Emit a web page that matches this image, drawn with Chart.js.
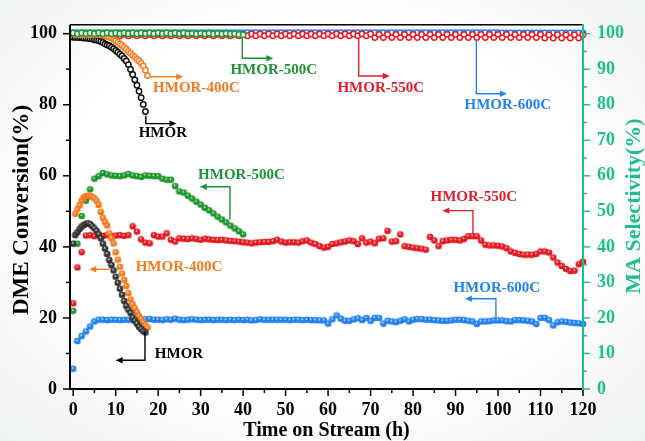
<!DOCTYPE html>
<html><head><meta charset="utf-8">
<script src="https://cdn.jsdelivr.net/npm/chart.js@4.4.1/dist/chart.umd.min.js"></script>
<style>
html,body{margin:0;padding:0;width:645px;height:441px;overflow:hidden;
background:radial-gradient(ellipse at 50% 48%, #ffffff 58%, #eef2f0 100%);}
canvas{display:block}
</style></head>
<body><canvas id="c" width="645" height="441"></canvas>
<script>
// ---------- data ----------
const tHalfA = [0,0.5,1,1.5,2,2.5,3,3.5,4,4.5,5,5.5,6,6.5,7,7.5,8,8.5,9,9.5,10,10.5,11,11.5,12,12.5,13,13.5,14,14.5,15,15.5,16,16.5,17];
const tHalfB = [0.5,1,1.5,2,2.5,3,3.5,4,4.5,5,5.5,6,6.5,7,7.5,8,8.5,9,9.5,10,10.5,11,11.5,12,12.5,13,13.5,14,14.5,15,15.5,16,16.5,17,17.5];
const t40 = [0,1,2,3,4,5,6,7,8,9,10,11,12,13,14,15,16,17,18,19,20,21,22,23,24,25,26,27,28,29,30,31,32,33,34,35,36,37,38,39,40];
const t120 = [0,1,2,3,4,5,6,7,8,9,10,11,12,13,14,15,16,17,18,19,20,21,22,23,24,25,26,27,28,29,30,31,32,33,34,35,36,37,38,39,40,
41,42,43,44,45,46,47,48,49,50,51,52,53,54,55,56,57,58,59,60,61,62,63,64,65,66,67,68,69,70,71,72,73,74,75,76,77,78,79,80,
81,82,83,84,85,86,87,88,89,90,91,92,93,94,95,96,97,98,99,100,101,102,103,104,105,106,107,108,109,110,111,112,113,114,115,116,117,118,119,120];

// DME conversion (%)
const hmorConv = [40.9,43.3,44.1,45.0,45.7,46.2,46.5,46.6,46.4,45.8,45.2,44.5,43.5,42.4,40.9,39.5,38.0,36.3,34.9,33.4,31.6,29.9,28.2,26.5,24.8,23.4,22.3,21.4,20.1,19.2,18.4,17.5,16.9,16.3,15.9];
const h400Conv = [49.3,50.6,51.7,53.0,53.9,54.3,54.4,54.3,54.0,53.7,53.0,51.8,49.8,48.2,47.0,46.0,43.8,42.4,41.0,38.5,36.4,34.4,32.5,30.7,29.0,27.0,25.2,23.8,22.7,21.6,20.5,19.7,18.8,17.9,17.3];
const h500Conv = [22.0,40.9,48.7,53.0,56.2,59.2,59.9,60.8,60.4,60.1,60.0,59.9,60.1,60.5,60.1,59.9,59.7,60.1,60.0,59.9,59.9,59.2,58.9,58.9,57.1,55.6,55.3,54.4,53.6,52.7,51.9,51.0,50.3,49.4,48.5,47.7,46.9,46.0,45.2,44.4,43.5];
const h550Conv = [24.1,34.2,38.5,43.2,43.3,43.0,43.3,43.1,43.3,43.0,43.2,43.3,43.1,43.3,45.8,44.3,42.1,41.2,41.0,43.3,42.9,42.9,43.8,42.0,41.5,42.4,42.3,42.2,42.4,42.2,42.0,42.3,42.1,42.0,41.9,42.0,41.8,41.7,41.6,41.5,41.3,
41.2,41.0,41.2,41.3,41.4,41.4,41.6,42.0,41.5,41.2,41.3,41.3,41.2,41.6,41.8,41.2,40.8,40.2,39.8,40.0,40.8,41.0,41.3,41.5,41.8,41.6,40.8,42.4,41.2,41.5,
41.0,42.3,42.4,44.5,41.5,41.6,43.5,40.2,40.0,39.8,39.6,39.5,39.2,42.8,41.8,40.2,41.6,41.8,42.0,42.0,41.8,42.2,43.0,43.0,43.0,41.8,40.6,40.4,40.4,40.3,
40.1,39.6,38.7,38.3,38.0,37.8,37.8,37.8,38.0,38.7,38.7,38.4,37.0,35.6,34.6,33.8,33.2,33.3,35.1,35.8];
const h600Conv = [5.7,13.5,14.9,16.2,17.6,19.0,19.5,19.5,19.4,19.5,19.5,19.4,19.5,19.5,19.4,19.3,19.5,19.6,19.7,19.5,19.5,19.4,19.6,19.5,19.8,19.5,19.4,19.5,19.6,19.5,19.4,19.5,19.5,19.4,19.5,19.5,19.4,19.5,19.4,19.5,19.4,
19.5,19.3,19.4,19.6,19.5,19.5,19.5,19.5,19.5,19.5,19.4,19.5,19.5,19.4,19.5,19.4,19.4,19.3,19.3,18.4,19.6,20.7,19.8,19.2,19.2,19.6,19.9,19.4,20.0,19.2,
20.0,20.0,18.4,19.2,19.0,18.8,19.2,19.6,19.0,19.5,19.7,19.7,19.5,19.5,19.4,19.3,19.2,19.2,19.3,19.5,19.5,19.4,19.2,19.0,18.3,19.0,19.0,19.1,19.3,19.3,
19.3,19.1,19.0,19.4,19.4,19.3,19.2,19.0,18.3,20.0,20.0,19.4,17.9,18.8,19.0,18.9,18.7,18.6,18.5,18.3];

// MA selectivity (%)
const hmorSel = [99.0,99.0,99.0,98.9,98.9,98.8,98.8,98.7,98.6,98.5,98.3,98.2,98.0,97.8,97.5,97.1,96.8,96.6,96.2,95.8,95.3,94.8,94.2,93.7,93.0,92.3,91.3,89.9,88.5,87.0,85.5,83.8,82.0,80.1,78.1];
const h400Sel = [99.8,99.8,99.8,99.8,99.8,99.8,99.8,99.8,99.8,99.8,99.8,99.8,99.7,99.6,99.4,99.2,99.0,98.8,98.4,98.0,97.6,97.1,96.7,96.2,95.6,95.0,94.5,93.9,93.4,92.8,92.3,91.7,90.9,89.7,88.2];
const h500Sel = [100.2,100.0,100.2,100.0,100.2,100.0,100.2,100.0,100.2,100.0,100.2,100.0,100.2,100.0,100.2,100.0,100.2,100.0,100.2,100.0,
100.2,100.0,100.2,100.0,100.2,100.0,100.2,100.0,100.1,99.9,100.1,99.9,100.1,99.9,100.1,99.9,100.1,99.9,100.0,99.8,99.7];
const h550Sel = [99.8,99.4,99.8,99.4,99.8,99.4,99.8,99.4,99.8,99.4,99.8,99.4,99.8,99.4,99.8,99.4,99.8,99.4,99.8,99.4,
99.8,99.4,99.8,99.4,99.8,99.4,99.8,99.4,99.8,99.4,99.8,99.4,99.8,99.4,99.8,99.4,99.8,99.4,99.8,99.4,99.8,
99.4,99.9,99.4,99.9,99.4,99.9,99.4,99.9,99.4,99.9,99.4,99.9,99.4,99.9,99.4,99.9,99.4,99.9,99.4,99.9,
99.4,99.9,99.4,99.9,99.4,99.9,99.4,99.9,99.4,99.9,
98.9,99.8,98.9,99.8,98.9,99.8,98.9,99.8,98.9,99.8,98.9,99.8,98.9,99.8,98.9,99.8,98.9,99.8,98.9,99.8,
98.9,99.8,98.9,99.8,98.9,99.8,98.9,99.8,98.9,99.8,98.9,99.8,98.9,99.8,98.9,99.8,98.9,99.8,98.9,99.8,
98.8,99.7,98.8,99.7,98.8,99.7,98.8,99.7,98.8,99.7];
const h600Sel = [100.3,100.3,100.3,100.3,100.3,100.3,100.3,100.3,100.3,100.3,100.3,100.3,100.3,100.3,100.3,100.3,100.3,100.3,100.3,100.3,
100.3,100.3,100.3,100.3,100.3,100.3,100.3,100.3,100.3,100.3,100.3,100.3,100.3,100.3,100.3,100.3,100.3,100.3,100.3,100.3,100.3,
100.3,100.3,100.3,100.3,100.3,100.3,100.3,100.3,100.3,100.3,100.3,100.3,100.3,100.3,100.3,100.3,100.3,100.3,100.3,100.3,
100.3,100.3,100.3,100.3,100.3,100.3,100.3,100.3,100.3,100.3,100.3,100.3,100.3,100.3,100.3,100.3,100.3,100.3,100.3,100.3,
100.3,100.3,100.3,100.3,100.3,100.3,100.3,100.3,100.3,100.3,100.3,100.3,100.3,100.3,100.3,100.3,100.3,100.3,100.3,100.3,
100.2,100.2,100.2,100.2,100.2,100.2,100.2,100.2,100.2,100.2,100.2,100.2,100.2,100.2,100.2,100.2,100.2,100.2,100.2,100.2];

// tick labels
const xMajor = [0,10,20,30,40,50,60,70,80,90,100,110,120];
const yLeftMajor = [0,20,40,60,80,100];
const yRightMajor = [0,10,20,30,40,50,60,70,80,90,100];

// ---------- styling ----------
const FONT = "'Liberation Serif','Times New Roman',serif";
const TEAL = '#1dbf8e';
const COL = {black:'#111111', orange:'#fb7d22', green:'#1f9a2e', red:'#ec1c24', blue:'#2386f7'};
const TXT = {black:'#000000', orange:'#f47b20', green:'#1d9338', red:'#e0202c', blue:'#2384f0'};

function ball(color, dark){
  const c = document.createElement('canvas'); c.width = 8; c.height = 8;
  const g = c.getContext('2d');
  const gr = g.createRadialGradient(3.4,3.0,0.2,4,4,3.6);
  gr.addColorStop(0,'#ffffff'); gr.addColorStop(0.32,color); gr.addColorStop(0.75,color); gr.addColorStop(1,dark);
  g.fillStyle = gr; g.beginPath(); g.arc(4,4,3.3,0,Math.PI*2); g.fill();
  return c;
}
const zip = (xs, ys) => xs.map((v,i)=>({x:v, y:ys[i]}));

function conv(label, t, v, color, dark, order){
  return {label, data: zip(t,v), showLine:false, pointStyle: ball(color,dark), pointRadius:3.5,
          yAxisID:'y', order, clip:false};
}
function sel(label, t, v, color, order){
  return {label, data: zip(t,v), showLine:false, pointStyle:'circle', pointRadius:2.7, pointBorderWidth:1.5,
          pointBorderColor:color, pointBackgroundColor:'rgba(255,255,255,0.95)', yAxisID:'y2', order, clip:false};
}

const notes = [
 {text:'HMOR', c:'black', tx:21.1, ty:71.9, path:[[17.1,76.9],[17.1,74.7],[24.3,74.7]]},
 {text:'HMOR-400C', c:'orange', tx:29.0, ty:84.6, path:[[18.2,87.9],[25.9,87.9]]},
 {text:'HMOR-500C', c:'green', tx:47.2, ty:89.8, path:[[39.8,99.0],[39.8,93.1],[47.1,93.1]]},
 {text:'HMOR-550C', c:'red', tx:72.4, ty:84.6, path:[[67.2,98.6],[67.2,88.1],[74.5,88.1]]},
 {text:'HMOR-600C', c:'blue', tx:102.3, ty:79.8, path:[[94.9,98.4],[94.9,83.1],[102.1,83.1]]},
 {text:'HMOR-500C', c:'green', tx:39.6, ty:60.3, path:[[36.9,47.6],[36.9,56.9],[29.8,56.9]]},
 {text:'HMOR-400C', c:'orange', tx:24.9, ty:34.2, path:[[8.6,33.7],[3.8,33.7]]},
 {text:'HMOR', c:'black', tx:24.9, ty:9.9, path:[[16.9,16.3],[16.9,8.1],[10.0,8.1]]},
 {text:'HMOR-550C', c:'red', tx:94.3, ty:54.0, path:[[94.1,43.6],[94.1,50.2],[86.9,50.2]]},
 {text:'HMOR-600C', c:'blue', tx:99.7, ty:28.4, path:[[99.5,20.0],[99.5,25.4],[92.2,25.4]]},
];

const mids = a => a.slice(1).map((v,i)=>(v+a[i])/2);

const decor = {
  id:'decor',
  afterDatasetsDraw(chart){
    const {ctx, chartArea:{left,right,top,bottom}, scales:{x, y, y2}} = chart;
    const line=(a,b,c,d)=>{ctx.beginPath();ctx.moveTo(a,b);ctx.lineTo(c,d);ctx.stroke();};
    ctx.save();
    // annotations
    ctx.lineWidth = 1.4;
    notes.forEach(n=>{
      const col = TXT[n.c];
      ctx.strokeStyle = col; ctx.fillStyle = col;
      const pts = n.path.map(p=>[x.getPixelForValue(p[0]), y.getPixelForValue(p[1])]);
      const L = 7, W = 3.2;
      const [ax,ay] = pts[pts.length-2], [bx,by] = pts[pts.length-1];
      const ang = Math.atan2(by-ay, bx-ax);
      const ex = bx - L*Math.cos(ang)*0.8, ey = by - L*Math.sin(ang)*0.8;
      ctx.beginPath(); ctx.moveTo(pts[0][0],pts[0][1]);
      for(let i=1;i<pts.length-1;i++) ctx.lineTo(pts[i][0],pts[i][1]);
      ctx.lineTo(ex,ey); ctx.stroke();
      ctx.beginPath(); ctx.moveTo(bx,by);
      ctx.lineTo(bx-L*Math.cos(ang)+W*Math.sin(ang), by-L*Math.sin(ang)-W*Math.cos(ang));
      ctx.lineTo(bx-L*Math.cos(ang)-W*Math.sin(ang), by-L*Math.sin(ang)+W*Math.cos(ang));
      ctx.closePath(); ctx.fill();
      ctx.font = 'bold 15px ' + FONT; ctx.textAlign='center'; ctx.textBaseline='middle';
      ctx.fillText(n.text, x.getPixelForValue(n.tx), y.getPixelForValue(n.ty));
    });
    // ticks
    ctx.lineWidth = 1.5; ctx.strokeStyle = '#000';
    xMajor.forEach(v=>{const p=x.getPixelForValue(v); line(p,bottom,p,bottom+7);});
    mids(xMajor).forEach(v=>{const p=x.getPixelForValue(v); line(p,bottom,p,bottom+4);});
    yLeftMajor.forEach(v=>{const p=y.getPixelForValue(v); line(left,p,left-7,p);});
    mids(yLeftMajor).forEach(v=>{const p=y.getPixelForValue(v); line(left,p,left-4,p);});
    ctx.strokeStyle = TEAL;
    yRightMajor.forEach(v=>{const p=y2.getPixelForValue(v); line(right,p,right+7,p);});
    mids(yRightMajor).forEach(v=>{const p=y2.getPixelForValue(v); line(right,p,right+4,p);});
    // axis lines
    ctx.lineWidth = 2; ctx.strokeStyle = '#000';
    line(left, top, left, bottom+1);
    line(left-1, bottom, right, bottom);
    ctx.lineWidth = 1.6;
    line(left, top, right, top);
    ctx.lineWidth = 2; ctx.strokeStyle = TEAL;
    line(right, top-0.8, right, bottom+1);
    // titles
    ctx.fillStyle = '#000'; ctx.textAlign='center'; ctx.textBaseline='middle';
    ctx.font = 'bold 20px ' + FONT;
    ctx.fillText('Time on Stream (h)', (left+right)/2, 431);
    ctx.font = 'bold 23px ' + FONT;
    ctx.save(); ctx.translate(22, 210); ctx.rotate(-Math.PI/2);
    ctx.fillText('DME Conversion(%)', 0, 0); ctx.restore();
    ctx.fillStyle = TEAL;
    ctx.font = 'bold 22px ' + FONT;
    ctx.save(); ctx.translate(634, 206); ctx.rotate(-Math.PI/2);
    ctx.fillText('MA Selectivity(%)', 0, 0); ctx.restore();
    ctx.restore();
  }
};

const tickFont = {family: FONT, size: 18, weight: 'bold'};
new Chart(document.getElementById('c'), {
  type: 'scatter',
  data: { datasets: [
    conv('HMOR', tHalfA, hmorConv, '#3a3a3a', '#000000', 1),
    conv('HMOR-400C', tHalfB, h400Conv, COL.orange, '#d45a00', 2),
    conv('HMOR-500C', t40, h500Conv, COL.green, '#0d6a15', 3),
    conv('HMOR-550C', t120, h550Conv, COL.red, '#a00008', 4),
    conv('HMOR-600C', t120, h600Conv, COL.blue, '#0a55c0', 5),
    sel('HMOR-500C sel', t40, h500Sel, COL.green, 6),
    sel('HMOR-400C sel', tHalfB, h400Sel, COL.orange, 7),
    sel('HMOR sel', tHalfA, hmorSel, COL.black, 8),
    sel('HMOR-550C sel', t120, h550Sel, COL.red, 9),
    sel('HMOR-600C sel', t120, h600Sel, COL.blue, 10),
  ]},
  options: {
    responsive:false, animation:false, devicePixelRatio:1,
    layout:{padding:{top:17,left:0,right:0,bottom:0}},
    plugins:{legend:{display:false}, tooltip:{enabled:false}},
    scales:{
      x:{type:'linear', min:-0.75, max:120,
         afterBuildTicks:s=>{s.ticks = xMajor.map(v=>({value:v}));},
         ticks:{font:tickFont, color:'#000', padding:11, maxRotation:0, autoSkip:false},
         grid:{display:false, drawTicks:false}, border:{display:false},
         afterFit:s=>{s.height = 52;}},
      y:{type:'linear', position:'left', min:0, max:102.5,
         afterBuildTicks:s=>{s.ticks = yLeftMajor.map(v=>({value:v}));},
         ticks:{font:tickFont, color:'#000', padding:13},
         grid:{display:false, drawTicks:false}, border:{display:false},
         afterFit:s=>{s.width = 70;}},
      y2:{type:'linear', position:'right', min:0, max:102.5,
         afterBuildTicks:s=>{s.ticks = yRightMajor.map(v=>({value:v}));},
         ticks:{font:tickFont, color:TEAL, padding:14},
         grid:{display:false, drawTicks:false}, border:{display:false},
         afterFit:s=>{s.width = 62;}}
    }
  },
  plugins:[decor]
});
</script>
</body></html>
